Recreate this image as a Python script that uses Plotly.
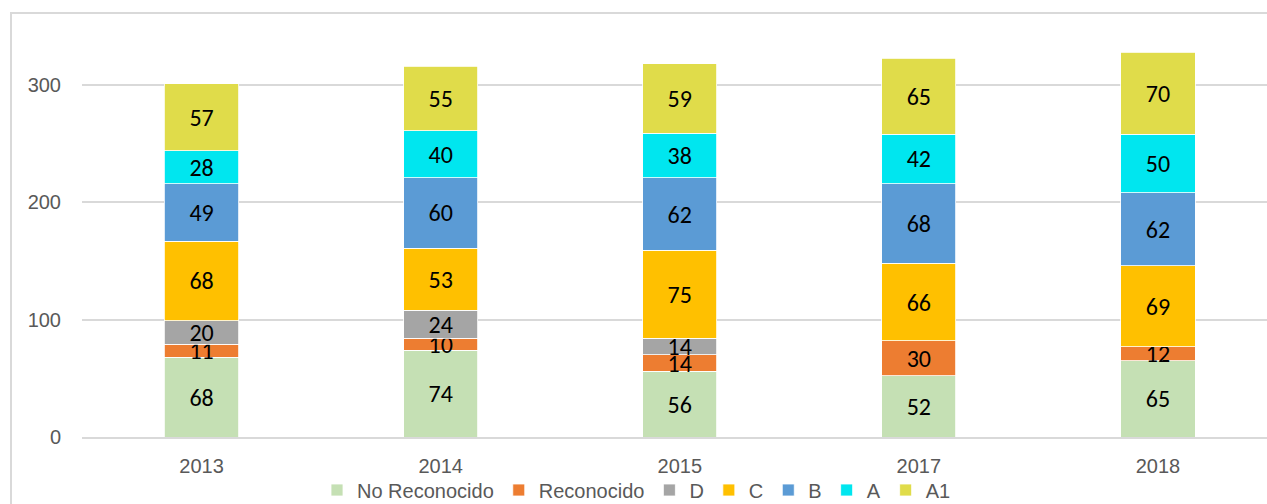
import plotly.graph_objects as go

years = ["2013", "2014", "2015", "2017", "2018"]

no_reconocido = [68, 74, 56, 52, 65]
reconocido = [11, 10, 14, 30, 12]
cat_d = [20, 24, 14, None, None]
cat_c = [68, 53, 75, 66, 69]
cat_b = [49, 60, 62, 68, 62]
cat_a = [28, 40, 38, 42, 50]
cat_a1 = [57, 55, 59, 65, 70]

series = [
    ("No Reconocido", no_reconocido, "#C5E0B4"),
    ("Reconocido", reconocido, "#ED7D31"),
    ("D", cat_d, "#A5A5A5"),
    ("C", cat_c, "#FFC000"),
    ("B", cat_b, "#5B9BD5"),
    ("A", cat_a, "#00E6EF"),
    ("A1", cat_a1, "#E0DC4A"),
]

axis_font = dict(family="Liberation Sans Narrow, Arial Narrow, Liberation Sans, sans-serif",
                 size=20, color="#595959")
label_font = dict(family="Carlito, Lato, Open Sans, sans-serif", size=24, color="#000000")

fig = go.Figure()
for name, vals, color in series:
    fig.add_trace(go.Bar(
        name=name,
        x=years,
        y=vals,
        marker=dict(color=color, line=dict(color="#FFFFFF", width=0.8)),
        text=[("" if v is None else str(v)) for v in vals],
        textposition="inside",
        insidetextanchor="middle",
        textangle=0,
        textfont=label_font,
        width=0.31,
        hoverinfo="skip",
    ))

W, H = 1267, 504
left, right, top, bottom = 82, 0, 13, 67
pw, ph = W - left - right, H - top - bottom

def px_x(x):
    return (x - left) / pw

def px_y(y):
    return (H - bottom - y) / ph

fig.update_layout(
    barmode="stack",
    width=W,
    height=H,
    margin=dict(l=left, r=right, t=top, b=bottom, pad=0, autoexpand=False),
    paper_bgcolor="#FFFFFF",
    plot_bgcolor="#FFFFFF",
    uniformtext=dict(minsize=24, mode="show"),
    showlegend=True,
    legend=dict(
        orientation="h",
        xref="container", yref="container",
        x=317 / W, xanchor="left",
        y=(H - 490) / H, yanchor="middle",
        font=axis_font,
        traceorder="normal",
        bgcolor="rgba(0,0,0,0)",
    ),
    xaxis=dict(
        type="category",
        range=[-0.5, 4.456],
        showgrid=False,
        showline=True,
        linecolor="#D9D9D9",
        linewidth=2,
        ticks="",
        tickfont=axis_font,
        ticklabelstandoff=10,
        zeroline=False,
    ),
    yaxis=dict(
        range=[0, 361.4],
        tickvals=[0, 100, 200, 300],
        showgrid=True,
        gridcolor="#D9D9D9",
        gridwidth=2,
        showline=False,
        zeroline=False,
        ticks="",
        tickfont=axis_font,
        ticklabelstandoff=20,
    ),
    shapes=[dict(
        type="rect", xref="paper", yref="paper",
        x0=px_x(11), x1=px_x(1275), y0=px_y(515), y1=px_y(13),
        line=dict(color="#D9D9D9", width=2),
        fillcolor="rgba(0,0,0,0)",
        layer="below",
    )],
)

fig.write_html("out.html")
